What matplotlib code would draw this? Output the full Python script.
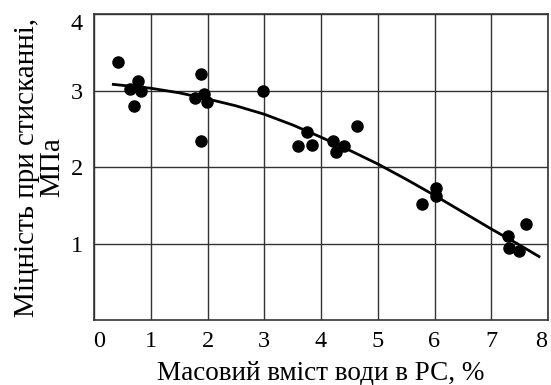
import matplotlib.pyplot as plt
from matplotlib.transforms import ScaledTranslation

# measured points
water = [0.43, 0.78, 0.64, 0.83, 0.70, 1.89, 1.78, 1.94, 1.99, 1.88, 2.97,
         3.76, 3.60, 3.85, 4.22, 4.26, 4.40, 4.64, 6.03, 6.02, 5.78,
         7.61, 7.29, 7.32, 7.49]
strength = [3.37, 3.12, 3.02, 2.99, 2.80, 3.21, 2.90, 2.95, 2.85, 2.34, 2.99,
            2.46, 2.28, 2.29, 2.34, 2.20, 2.28, 2.54, 1.73, 1.62, 1.51,
            1.25, 1.10, 0.94, 0.90]

# approximating curve
fit_x = [0.34, 1.0, 1.5, 2.0, 2.5, 3.0, 3.5, 4.0, 4.5, 5.0, 5.5, 6.0, 6.5, 7.0, 7.5, 7.84]
fit_y = [3.08, 3.03, 2.97, 2.89, 2.80, 2.69, 2.55, 2.39, 2.22, 2.04, 1.84, 1.63, 1.41, 1.19, 0.98, 0.83]

x_ticks = [0, 1, 2, 3, 4, 5, 6, 7, 8]
y_ticks = [1, 2, 3, 4]

plt.rcParams['font.family'] = ['Liberation Serif', 'DejaVu Serif']

fig = plt.figure(figsize=(5.51, 3.85), dpi=100)
ax = fig.add_axes([0.1706, 0.1688, 0.8240, 0.7948])

ax.plot(fit_x, fit_y, color='black', lw=2.0, zorder=3)
ax.plot(water, strength, 'o', color='black', ms=8, zorder=4)

ax.set_xlim(0, 8)
ax.set_ylim(0, 4)
ax.set_xticks(x_ticks)
ax.set_yticks(y_ticks)
ax.grid(True, color='#333333', lw=1.0)
ax.set_axisbelow(True)
ax.tick_params(length=0, labelsize=17.5, pad=8)
for s in ax.spines.values():
    s.set_color('#333333')
    s.set_linewidth(1.2)

# end labels sit a little inside, as in the original
xl = ax.get_xticklabels()
xl[0].set_transform(xl[0].get_transform() + ScaledTranslation(5 / 100, 0, fig.dpi_scale_trans))
xl[-1].set_transform(xl[-1].get_transform() + ScaledTranslation(-7 / 100, 0, fig.dpi_scale_trans))
yl = ax.get_yticklabels()
yl[-1].set_transform(yl[-1].get_transform() + ScaledTranslation(0, -8 / 100, fig.dpi_scale_trans))

ax.set_xlabel('Масовий вміст води в РС, %', fontsize=19.5, labelpad=6)
ax.set_ylabel('Міцність при стисканні,\nМПа', fontsize=21, labelpad=4,
              linespacing=0.95)

fig.savefig('out.png', dpi=100)
